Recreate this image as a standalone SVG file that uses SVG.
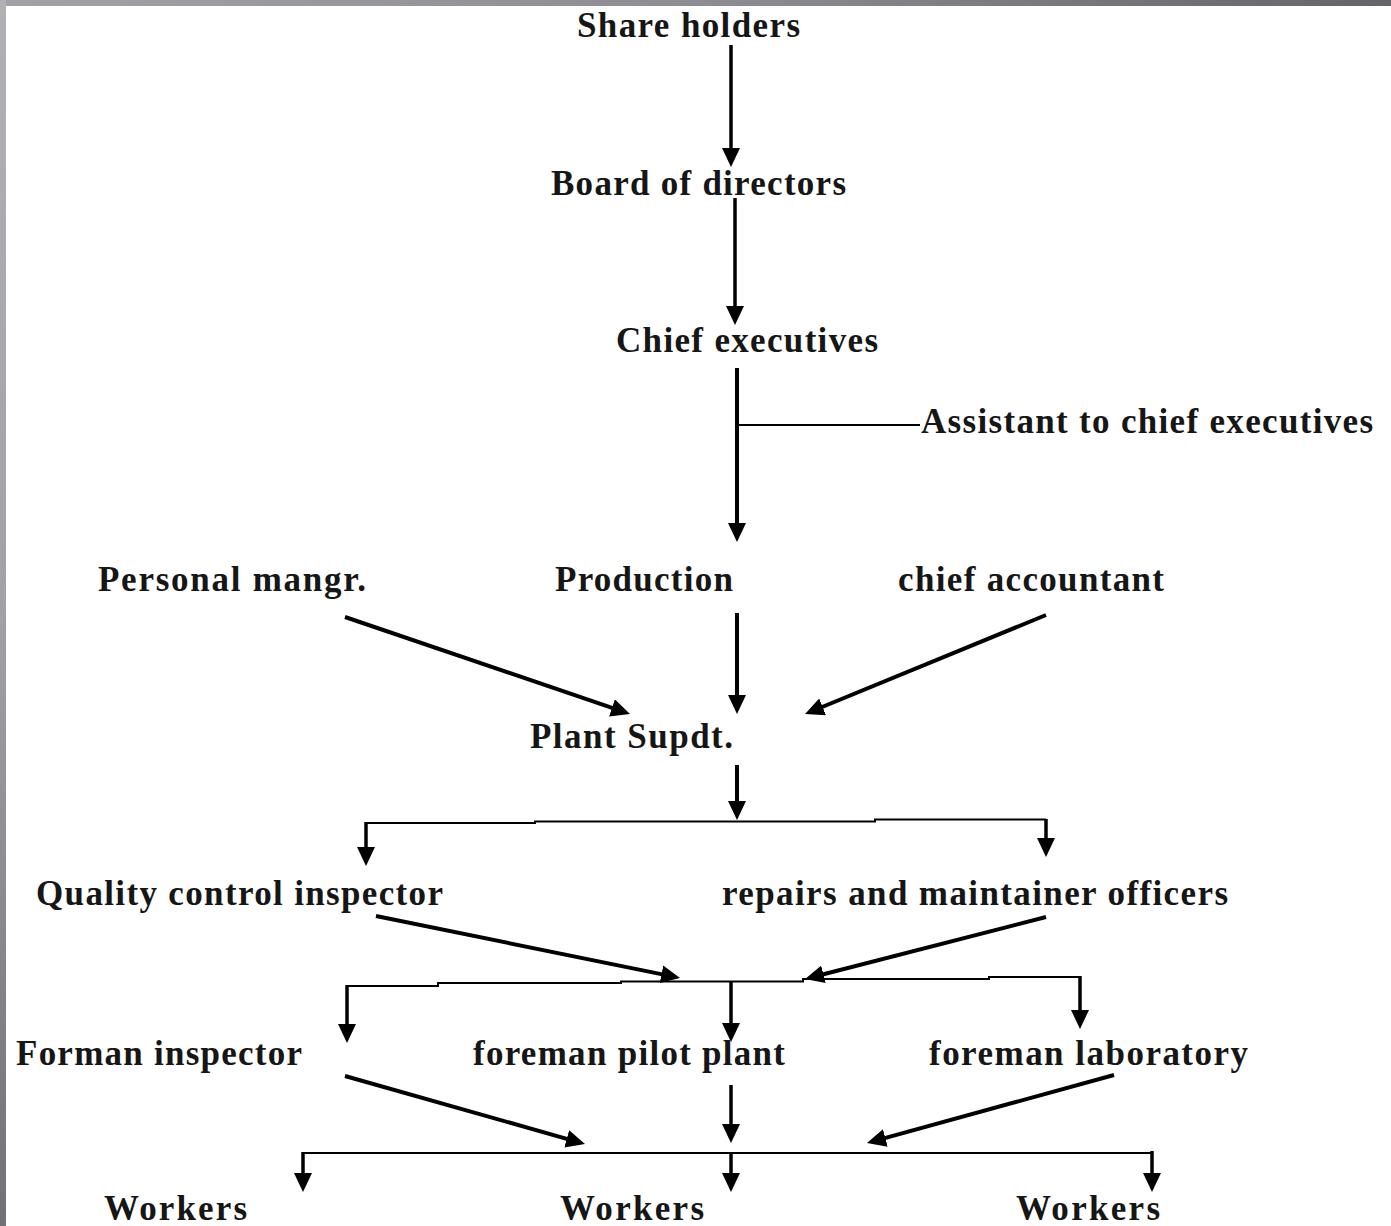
<svg xmlns="http://www.w3.org/2000/svg" width="1391" height="1226" viewBox="0 0 1391 1226">
  <style>
    text { font-family: "Liberation Serif", "Times New Roman", serif; font-weight: bold; font-size: 35px; fill: #161616; }
    .arrow { fill: none; stroke: #000; stroke-width: 3.5; marker-end: url(#head); }
    .thick { stroke-width: 4; }
    .bus { fill: none; stroke: #000; stroke-width: 2; }
  </style>
  <defs>
    <marker id="head" markerUnits="userSpaceOnUse" markerWidth="20" markerHeight="18" viewBox="0 0 20 18" refX="11" refY="9" orient="auto">
      <path d="M0,0 L19,9 L0,18 Z" fill="#000"/>
    </marker>
    <linearGradient id="topBand" x1="0" y1="0" x2="1" y2="0">
      <stop offset="0" stop-color="#a3a1a8"/>
      <stop offset="0.5" stop-color="#8f8d94"/>
      <stop offset="1" stop-color="#66636a"/>
    </linearGradient>
    <linearGradient id="leftBand" x1="0" y1="0" x2="0" y2="1">
      <stop offset="0" stop-color="#b2b0b5"/>
      <stop offset="0.5" stop-color="#a3a1a8"/>
      <stop offset="1" stop-color="#727075"/>
    </linearGradient>
  </defs>

  <!-- page -->
  <rect x="0" y="0" width="1391" height="1226" fill="#fff"/>
  <rect x="0" y="0" width="1391" height="6" fill="url(#topBand)"/>
  <rect x="0" y="0" width="6" height="1226" fill="url(#leftBand)"/>

  <!-- connectors -->
  <g id="connectors">
    <path class="arrow" d="M731,45 V159"/>
    <path class="arrow" d="M735,198 V317"/>
    <path class="arrow thick" d="M737,368 V534"/>
    <path class="bus" stroke-width="2.5" d="M737,425 H920"/>

    <path class="arrow thick" d="M345,617 L622.4,711.4"/>
    <path class="arrow thick" d="M737,613 V706"/>
    <path class="arrow thick" d="M1046,615 L812.4,711"/>

    <path class="arrow thick" d="M737,765 V812"/>
    <path class="bus" d="M366,823 H535 V821.5 H875 V819.5 H1046"/>
    <path class="arrow" d="M366,822 V858"/>
    <path class="arrow" d="M1046,819 V849"/>

    <path class="arrow thick" d="M376,916 L672.2,976.4"/>
    <path class="arrow thick" d="M1046,917 L812.8,977"/>
    <path class="bus" d="M347,986 H438 V983 H621 V981.5 H803 V979 H989 V977 H1080"/>
    <path class="arrow" d="M347,985 V1035"/>
    <path class="arrow" d="M731,981 V1034"/>
    <path class="arrow" d="M1080,976 V1021"/>

    <path class="arrow thick" d="M345,1076 L577.3,1141.8"/>
    <path class="arrow" d="M731,1085 V1135"/>
    <path class="arrow thick" d="M1114,1075 L874.7,1140.9"/>
    <path class="bus" d="M303,1153 H1152"/>
    <path class="arrow" d="M303,1152 V1184"/>
    <path class="arrow" d="M731,1152 V1184"/>
    <path class="arrow" d="M1152,1151 V1184"/>
  </g>

  <!-- positions -->
  <g id="share-holders"><text x="577" y="37" textLength="223" lengthAdjust="spacing">Share holders</text></g>
  <g id="board-of-directors"><text x="551" y="195" textLength="295" lengthAdjust="spacing">Board of directors</text></g>
  <g id="chief-executives"><text x="616" y="352" textLength="262" lengthAdjust="spacing">Chief executives</text></g>
  <g id="assistant"><text x="921" y="433" textLength="452" lengthAdjust="spacing">Assistant to chief executives</text></g>
  <g id="personal-mangr"><text x="98" y="591" textLength="268" lengthAdjust="spacing">Personal mangr.</text></g>
  <g id="production"><text x="555" y="591" textLength="178" lengthAdjust="spacing">Production</text></g>
  <g id="chief-accountant"><text x="898" y="591" textLength="266" lengthAdjust="spacing">chief accountant</text></g>
  <g id="plant-supdt"><text x="530" y="748" textLength="203" lengthAdjust="spacing">Plant Supdt.</text></g>
  <g id="quality-control"><text x="36" y="905" textLength="407" lengthAdjust="spacing">Quality control inspector</text></g>
  <g id="repairs"><text x="722" y="905" textLength="506" lengthAdjust="spacing">repairs and maintainer officers</text></g>
  <g id="forman-inspector"><text x="16" y="1065" textLength="286" lengthAdjust="spacing">Forman inspector</text></g>
  <g id="foreman-pilot-plant"><text x="473" y="1065" textLength="312" lengthAdjust="spacing">foreman pilot plant</text></g>
  <g id="foreman-laboratory"><text x="929" y="1065" textLength="319" lengthAdjust="spacing">foreman laboratory</text></g>
  <g id="workers-1"><text x="104" y="1220" textLength="143" lengthAdjust="spacing">Workers</text></g>
  <g id="workers-2"><text x="560" y="1220" textLength="144" lengthAdjust="spacing">Workers</text></g>
  <g id="workers-3"><text x="1016" y="1220" textLength="144" lengthAdjust="spacing">Workers</text></g>
</svg>
